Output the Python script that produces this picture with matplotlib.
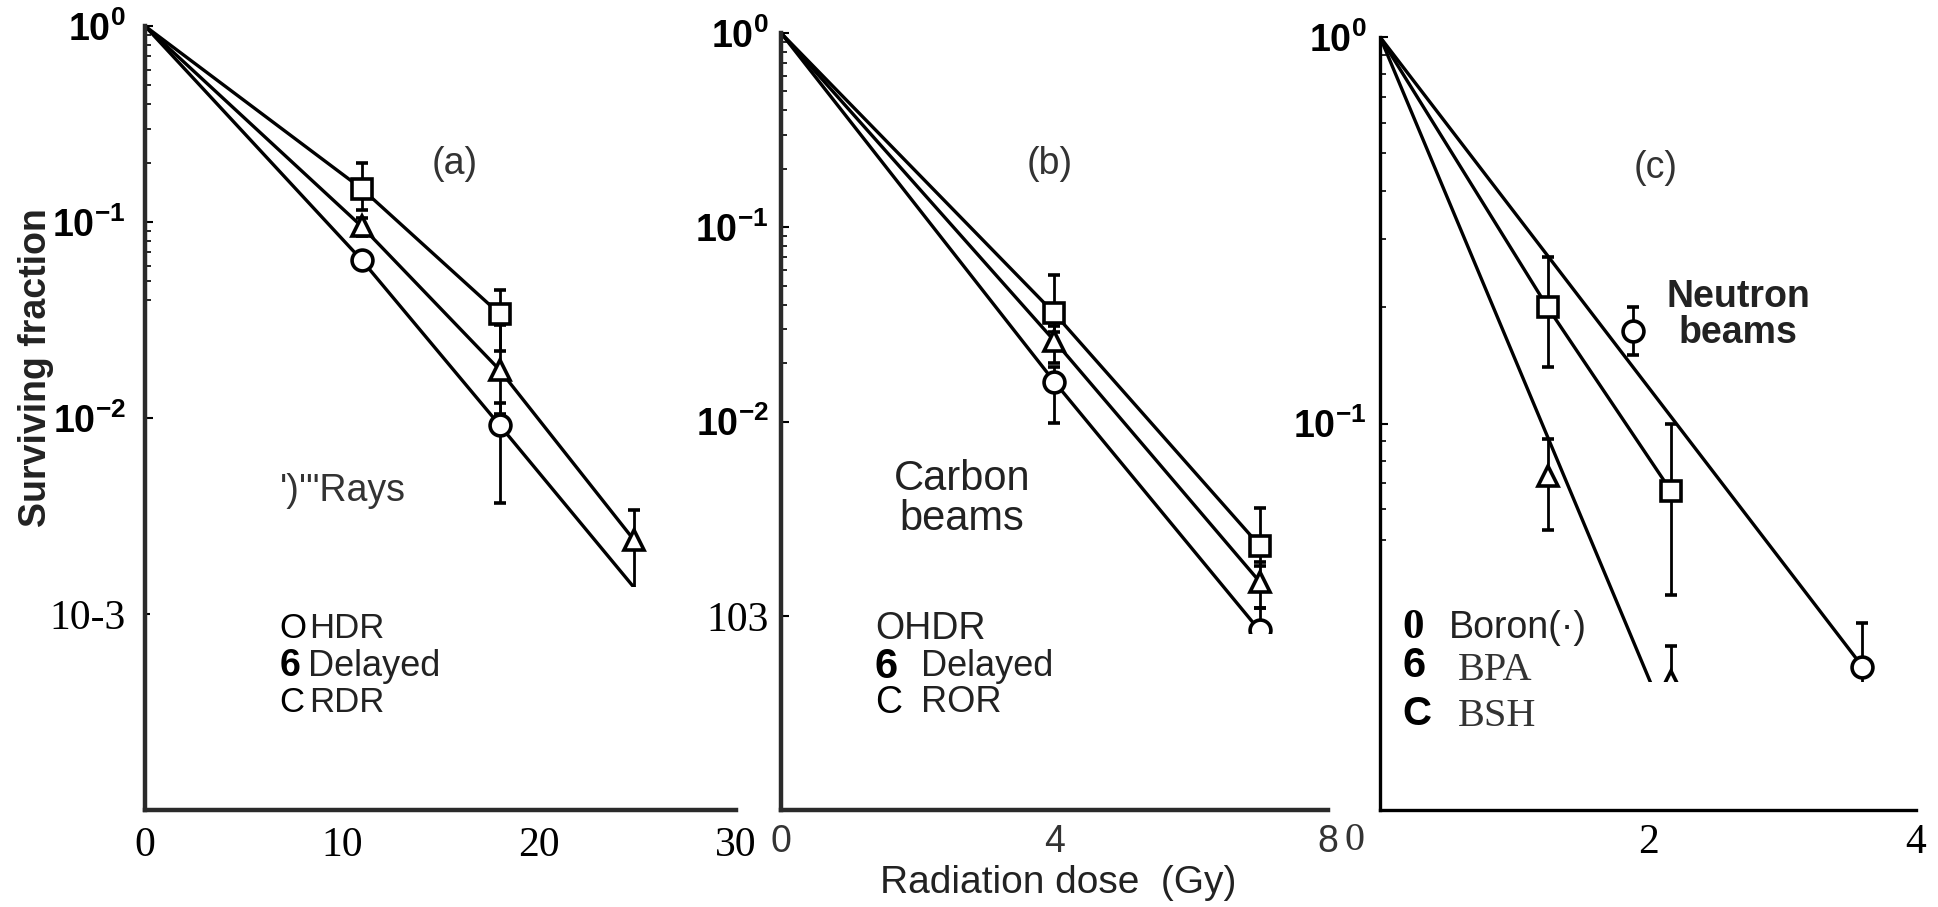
import matplotlib.pyplot as plt
from matplotlib.patches import Rectangle
from matplotlib.ticker import FixedLocator

plt.rcParams['font.family'] = ['Liberation Sans', 'DejaVu Sans']
plt.rcParams['mathtext.fontset'] = 'custom'
plt.rcParams['mathtext.rm'] = 'Liberation Sans'
plt.rcParams['mathtext.bf'] = 'Liberation Sans:bold'

# ---- panel (a): gamma rays ----
a_sq_x = [11, 18]
a_sq_y = [0.148, 0.034]
a_sq_lo = [0.115, 0.022]
a_sq_hi = [0.20, 0.045]
a_tr_x = [11, 18, 24.8]
a_tr_y = [0.095, 0.0176, 0.0024]
a_tr_lo = [0.085, 0.0105, 0.0012]
a_tr_hi = [0.105, 0.030, 0.0034]
a_ci_x = [11, 18]
a_ci_y = [0.064, 0.0092]
a_ci_lo = [0.064, 0.0037]
a_ci_hi = [0.064, 0.012]
a_fit_sq_x = [0, 11, 18]
a_fit_sq_y = [1, 0.148, 0.034]
a_fit_tr_x = [0, 11, 18, 24.8]
a_fit_tr_y = [1, 0.095, 0.0176, 0.0024]
a_fit_ci_x = [0, 11, 18, 25]
a_fit_ci_y = [1, 0.064, 0.0092, 0.0013]

# ---- panel (b): carbon beams ----
b_sq_x = [4, 7]
b_sq_y = [0.036, 0.0023]
b_sq_lo = [0.029, 0.0018]
b_sq_hi = [0.057, 0.0036]
b_tr_x = [4, 7]
b_tr_y = [0.026, 0.0015]
b_tr_lo = [0.020, 0.0011]
b_tr_hi = [0.031, 0.0019]
b_ci_x = [4, 7]
b_ci_y = [0.016, 0.00084]
b_ci_lo = [0.0098, 0.0006]
b_ci_hi = [0.019, 0.0011]
b_fit_sq_x = [0, 4, 7]
b_fit_sq_y = [1, 0.036, 0.0023]
b_fit_tr_x = [0, 4, 7]
b_fit_tr_y = [1, 0.026, 0.0015]
b_fit_ci_x = [0, 4, 7]
b_fit_ci_y = [1, 0.016, 0.00084]

# ---- panel (c): neutron beams ----
c_sq_x = [1.25, 2.17]
c_sq_y = [0.20, 0.067]
c_sq_lo = [0.14, 0.036]
c_sq_hi = [0.27, 0.10]
c_tr_x = [1.25, 2.17]
c_tr_y = [0.073, 0.0216]
c_tr_lo = [0.053, 0.017]
c_tr_hi = [0.091, 0.0266]
c_ci_x = [1.89, 3.6]
c_ci_y = [0.174, 0.0235]
c_ci_lo = [0.15, 0.019]
c_ci_hi = [0.20, 0.0305]
c_fit_sq_x = [0, 1.25, 2.17]
c_fit_sq_y = [1, 0.20, 0.067]
c_fit_tr_x = [0, 2.3]
c_fit_tr_y = [1, 0.0125]
c_fit_ci_x = [0, 3.6]
c_fit_ci_y = [1, 0.0235]

a_xticks = [0, 10, 20, 30]
b_xticks = [0, 4, 8]
c_xticks = [0, 2, 4]
c_xlabels = ['', '2', '4']   # the "0" of panel (c) sits left of its tick
a_yticks = [1, 0.1, 0.01, 0.001]
a_ylabels = [r'$\mathbf{10^{0}}$', r'$\mathbf{10^{-1}}$', r'$\mathbf{10^{-2}}$', '10-3']
b_ylabels = [r'$\mathbf{10^{0}}$', r'$\mathbf{10^{-1}}$', r'$\mathbf{10^{-2}}$', '103']
c_yticks = [1, 0.1]
c_ylabels = [r'$\mathbf{10^{0}}$', r'$\mathbf{10^{-1}}$']


def draw_series(ax, fit_x, fit_y, x, y, lo, hi, marker):
    ax.plot(fit_x, fit_y, color='black', lw=2.4, zorder=2)
    yerr = [[v - l for v, l in zip(y, lo)], [h - v for v, h in zip(y, hi)]]
    ax.errorbar(x, y, yerr=yerr, fmt=marker, ms=15, mfc='white', mec='black',
                mew=2.6, ecolor='black', elinewidth=2, capsize=4, capthick=2,
                zorder=3)


def style_axes(ax, spine_lw, spine_color):
    for s in ['top', 'right']:
        ax.spines[s].set_visible(False)
    for s in ['left', 'bottom']:
        ax.spines[s].set_linewidth(spine_lw)
        ax.spines[s].set_color(spine_color)
        ax.spines[s].set_zorder(5)
    ax.set_yscale('log')
    ax.tick_params(axis='x', length=0)
    ax.tick_params(axis='y', which='major', direction='in', length=6, width=1.5,
                   pad=14)
    ax.tick_params(axis='y', which='minor', direction='in', length=4, width=1.2)


def mask(ax, cut):
    # white patch that hides the lower part of the plot area
    ax.add_patch(Rectangle((0.008, 0.004), 0.992, cut, transform=ax.transAxes,
                           facecolor='white', edgecolor='none', zorder=4,
                           clip_on=False))


def main():
    fig = plt.figure(figsize=(19.38, 9.07), dpi=100)

    ax_a = fig.add_axes([0.0748, 0.1069, 0.305, 0.8644])
    ax_b = fig.add_axes([0.403, 0.1069, 0.2822, 0.8567])
    ax_c = fig.add_axes([0.7121, 0.1069, 0.2766, 0.8523])

    # (a)
    style_axes(ax_a, 3.2, '#2a2a2a')
    draw_series(ax_a, a_fit_sq_x, a_fit_sq_y, a_sq_x, a_sq_y, a_sq_lo, a_sq_hi, 's')
    draw_series(ax_a, a_fit_tr_x, a_fit_tr_y, a_tr_x, a_tr_y, a_tr_lo, a_tr_hi, '^')
    draw_series(ax_a, a_fit_ci_x, a_fit_ci_y, a_ci_x, a_ci_y, a_ci_lo, a_ci_hi, 'o')
    ax_a.set_xlim(0, 30)
    ax_a.set_ylim(1e-4, 1)
    ax_a.set_xticks(a_xticks)
    ax_a.set_xticklabels([str(t) for t in a_xticks], family='Liberation Serif',
                         fontsize=30)
    ax_a.tick_params(axis='x', pad=12)
    ax_a.set_yticks(a_yticks)
    ax_a.set_yticklabels(a_ylabels, fontsize=27)
    ax_a.yaxis.set_minor_locator(FixedLocator(
        [k * 10.0 ** e for e in (-2, -1) for k in range(2, 10) if k * 10.0 ** e >= 0.04]))
    mask(ax_a, 0.281)

    # (b)
    style_axes(ax_b, 3.2, '#2a2a2a')
    draw_series(ax_b, b_fit_sq_x, b_fit_sq_y, b_sq_x, b_sq_y, b_sq_lo, b_sq_hi, 's')
    draw_series(ax_b, b_fit_tr_x, b_fit_tr_y, b_tr_x, b_tr_y, b_tr_lo, b_tr_hi, '^')
    draw_series(ax_b, b_fit_ci_x, b_fit_ci_y, b_ci_x, b_ci_y, b_ci_lo, b_ci_hi, 'o')
    ax_b.set_xlim(0, 8)
    ax_b.set_ylim(1e-4, 1)
    ax_b.set_xticks(b_xticks)
    ax_b.set_xticklabels([str(t) for t in b_xticks], fontsize=27, color='#333333')
    ax_b.tick_params(axis='x', pad=10)
    ax_b.tick_params(axis='y', which='major', pad=9)
    ax_b.set_yticks(a_yticks)
    ax_b.set_yticklabels(b_ylabels, fontsize=27)
    ax_b.yaxis.set_minor_locator(FixedLocator(
        [k * 10.0 ** e for e in (-2, -1) for k in range(2, 10)]))
    mask(ax_b, 0.2227)

    # (c)
    style_axes(ax_c, 2.4, 'black')
    draw_series(ax_c, c_fit_sq_x, c_fit_sq_y, c_sq_x, c_sq_y, c_sq_lo, c_sq_hi, 's')
    draw_series(ax_c, c_fit_tr_x, c_fit_tr_y, c_tr_x, c_tr_y, c_tr_lo, c_tr_hi, '^')
    draw_series(ax_c, c_fit_ci_x, c_fit_ci_y, c_ci_x, c_ci_y, c_ci_lo, c_ci_hi, 'o')
    ax_c.set_xlim(0, 4)
    ax_c.set_ylim(1e-2, 1)
    ax_c.set_xticks(c_xticks)
    ax_c.set_xticklabels(c_xlabels, family='Liberation Serif', fontsize=30)
    ax_c.tick_params(axis='x', pad=10)
    ax_c.tick_params(axis='y', which='major', pad=10)
    ax_c.set_yticks(c_yticks)
    ax_c.set_yticklabels(c_ylabels, fontsize=27)
    ax_c.yaxis.set_minor_locator(FixedLocator(
        [k * 10.0 ** e for e in (-2, -1) for k in range(2, 10) if k * 10.0 ** e >= 0.05]))
    mask(ax_c, 0.1617)

    # the odd serif "10-3"/"103" labels
    for ax in (ax_a, ax_b):
        lab = ax.get_yticklabels()[-1]
        lab.set_family('Liberation Serif')
        lab.set_fontsize(30)

    W, H = 1938.0, 907.0

    def ftext(x, y, s, **kw):
        kw.setdefault('ha', 'left')
        kw.setdefault('va', 'center')
        fig.text(x / W, 1 - y / H, s, zorder=10, **kw)

    # axis titles
    ftext(36, 368, 'Surviving fraction', rotation=90, ha='center',
          fontsize=27, fontweight='bold', color='#222222')
    ftext(1058, 883, 'Radiation dose  (Gy)', ha='center', fontsize=28,
          color='#222222')

    # zero of panel (c), set off to the left of the axis
    ftext(1355, 841, '0', ha='center', family='Liberation Serif', fontsize=29,
          color='#333333')

    # panel tags
    ftext(455, 164, '(a)', ha='center', fontsize=27, color='#333333')
    ftext(1050, 164, '(b)', ha='center', fontsize=27, color='#333333')
    ftext(1656, 168, '(c)', ha='center', fontsize=27, color='#333333')

    # (a) texts
    ftext(343, 491, '\')\'"Rays', ha='center', fontsize=27, color='#333333')
    ftext(279, 629, 'O', fontsize=25, color='black')
    ftext(309, 629, 'HDR', fontsize=25, color='#222222')
    ftext(280, 666, '6', fontsize=27, fontweight='bold', color='black')
    ftext(308, 666, 'Delayed', fontsize=26, color='#222222')
    ftext(279, 703, 'C', fontsize=25, color='black')
    ftext(309, 703, 'RDR', fontsize=25, color='#222222')

    # (b) texts
    ftext(962, 499, 'Carbon\nbeams', ha='center', fontsize=30,
          color='#222222', linespacing=1.0)
    ftext(875, 629, 'OHDR', fontsize=27, color='#222222')
    ftext(875, 667, '6', fontsize=30, fontweight='bold', color='black')
    ftext(921, 667, 'Delayed', fontsize=26, color='#222222')
    ftext(875, 703, 'C', fontsize=27, color='black')
    ftext(921, 703, 'ROR', fontsize=26, color='#222222')

    # (c) texts
    ftext(1738, 315, 'Neutron\nbeams', ha='center', fontsize=27,
          fontweight='bold', color='#222222', linespacing=1.0)
    ftext(1402, 628, '0', family='Liberation Serif', fontsize=31,
          fontweight='bold', color='black')
    ftext(1449, 628, 'Boron(\u00b7)', fontsize=27, color='#222222')
    ftext(1402, 666, '6', fontsize=30, fontweight='bold', color='black')
    ftext(1458, 670, 'BPA', family='Liberation Serif', fontsize=29,
          color='#333333')
    ftext(1402, 714, 'C', fontsize=29, fontweight='bold', color='black')
    ftext(1458, 716, 'BSH', family='Liberation Serif', fontsize=29,
          color='#333333')

    fig.savefig('out.png', dpi=100)


if __name__ == '__main__':
    main()
